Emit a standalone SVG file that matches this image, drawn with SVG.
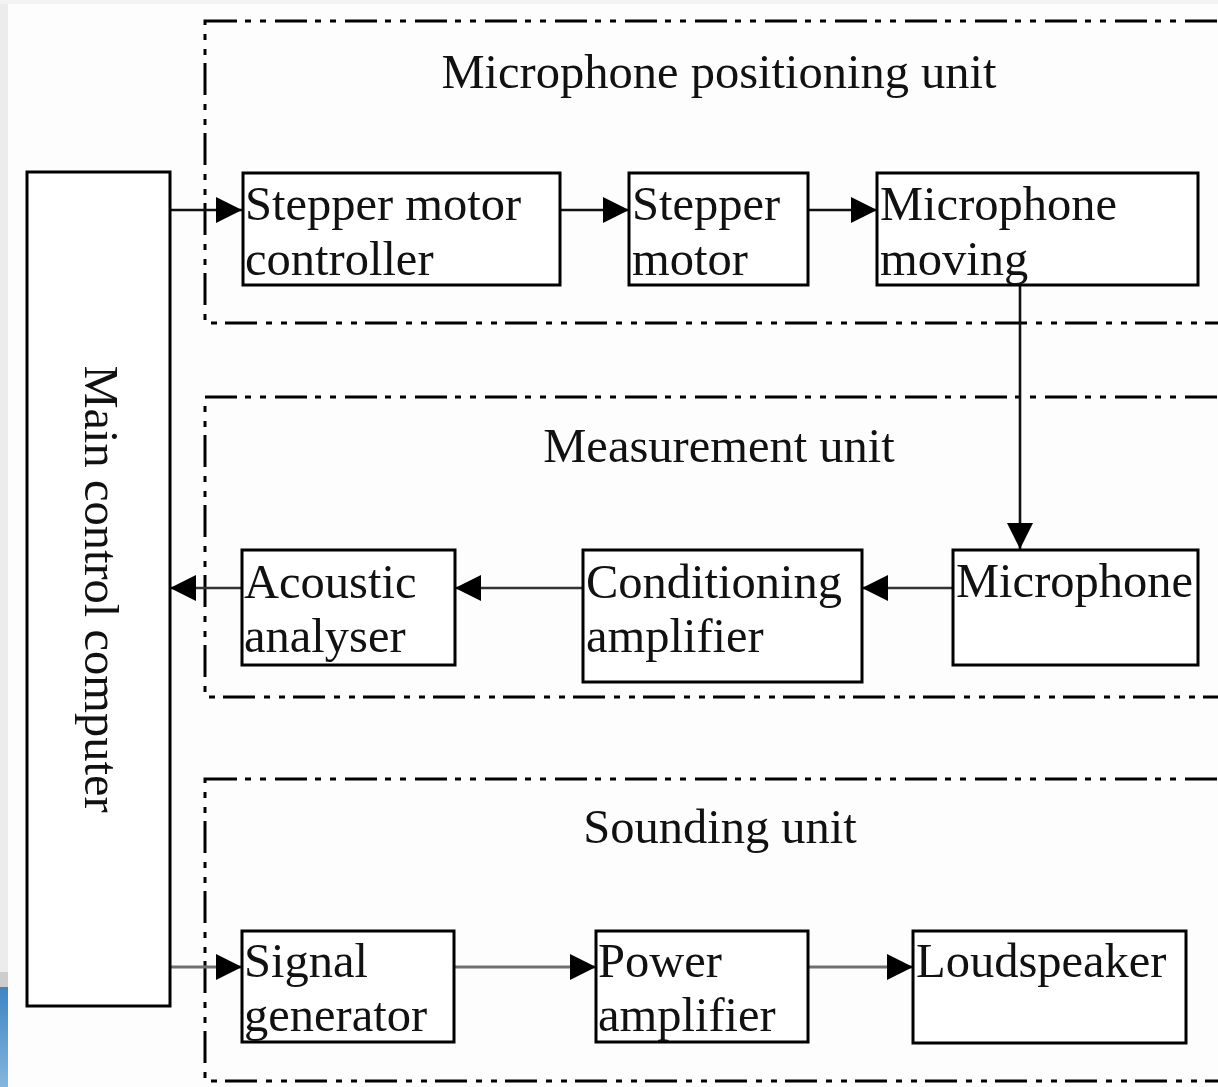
<svg xmlns="http://www.w3.org/2000/svg" width="1218" height="1087" viewBox="0 0 1218 1087">
  <defs>
    <style>
      .bg { fill: #fdfdfd; }
      .unit { fill: none; stroke: #000; stroke-width: 3; stroke-dasharray: 32 8 6 9 6 9; }
      .box { fill: #fff; stroke: #000; stroke-width: 3; }
      .lbl { font-family: "Liberation Serif", "Times New Roman", serif; font-size: 48.5px; fill: #111; }
      .title { text-anchor: middle; }
      .wire { fill: none; stroke-width: 2.6; }
      .w1 { stroke: #111; }
      .w2 { stroke: #333; }
      .w3 { stroke: #707070; stroke-width: 3; }
    </style>
    <marker id="head" viewBox="0 0 26 26" markerWidth="26" markerHeight="26" refX="26" refY="13" orient="auto" markerUnits="userSpaceOnUse">
      <path d="M0,0 L26,13 L0,26 z" fill="#000"/>
    </marker>
    <linearGradient id="edgeBlue" x1="0" y1="0" x2="0" y2="1">
      <stop offset="0" stop-color="#3e84c4"/>
      <stop offset="1" stop-color="#86b6dc"/>
    </linearGradient>
  </defs>

  <!-- page background and the left margin strip -->
  <rect class="bg" x="0" y="0" width="1218" height="1087"/>
  <rect x="0" y="0" width="8" height="972" fill="#ececec"/>
  <rect x="0" y="0" width="1218" height="4" fill="#f3f3f3"/>
  <rect x="0" y="972" width="8" height="15" fill="#cdcdcd"/>
  <rect x="0" y="987" width="8" height="100" fill="url(#edgeBlue)"/>

  <!-- unit frames -->
  <g id="positioning-unit">
    <rect class="unit" x="205" y="21" width="1030" height="302"/>
    <text class="lbl title" x="719" y="88">Microphone positioning unit</text>
  </g>
  <g id="measurement-unit">
    <rect class="unit" x="205" y="397" width="1030" height="300"/>
    <text class="lbl title" x="719" y="462">Measurement unit</text>
  </g>
  <g id="sounding-unit">
    <rect class="unit" x="205" y="779" width="1030" height="302"/>
    <text class="lbl title" x="720" y="843">Sounding unit</text>
  </g>

  <!-- connectors -->
  <g id="connectors">
    <line class="wire w1" x1="170" y1="210" x2="242" y2="210" marker-end="url(#head)"/>
    <line class="wire w1" x1="560" y1="210" x2="629" y2="210" marker-end="url(#head)"/>
    <line class="wire w1" x1="808" y1="210" x2="877" y2="210" marker-end="url(#head)"/>
    <line class="wire w1" x1="1020" y1="285" x2="1020" y2="549" marker-end="url(#head)"/>
    <line class="wire w2" x1="953" y1="588" x2="862" y2="588" marker-end="url(#head)"/>
    <line class="wire w2" x1="583" y1="588" x2="455" y2="588" marker-end="url(#head)"/>
    <line class="wire w2" x1="242" y1="588" x2="170" y2="588" marker-end="url(#head)"/>
    <line class="wire w3" x1="170" y1="967" x2="242" y2="967" marker-end="url(#head)"/>
    <line class="wire w3" x1="454" y1="967" x2="596" y2="967" marker-end="url(#head)"/>
    <line class="wire w3" x1="808" y1="967" x2="913" y2="967" marker-end="url(#head)"/>
  </g>

  <!-- blocks -->
  <g id="main-control-computer">
    <rect class="box" x="27" y="172" width="143" height="834"/>
    <text class="lbl" text-anchor="middle" transform="translate(85,589) rotate(90)">Main control computer</text>
  </g>
  <g id="stepper-motor-controller">
    <rect class="box" x="243" y="173" width="317" height="112"/>
    <text class="lbl" x="245" y="220">Stepper motor</text>
    <text class="lbl" x="245" y="275">controller</text>
  </g>
  <g id="stepper-motor">
    <rect class="box" x="629" y="173" width="179" height="112"/>
    <text class="lbl" x="632" y="220">Stepper</text>
    <text class="lbl" x="632" y="275">motor</text>
  </g>
  <g id="microphone-moving">
    <rect class="box" x="877" y="173" width="321" height="112"/>
    <text class="lbl" x="880" y="220">Microphone</text>
    <text class="lbl" x="880" y="275">moving</text>
  </g>
  <g id="acoustic-analyser">
    <rect class="box" x="242" y="550" width="213" height="115"/>
    <text class="lbl" x="244" y="598">Acoustic</text>
    <text class="lbl" x="244" y="652">analyser</text>
  </g>
  <g id="conditioning-amplifier">
    <rect class="box" x="583" y="550" width="279" height="132"/>
    <text class="lbl" x="586" y="598">Conditioning</text>
    <text class="lbl" x="586" y="652">amplifier</text>
  </g>
  <g id="microphone">
    <rect class="box" x="953" y="550" width="245" height="115"/>
    <text class="lbl" x="956" y="597">Microphone</text>
  </g>
  <g id="signal-generator">
    <rect class="box" x="242" y="931" width="212" height="111"/>
    <text class="lbl" x="244" y="977">Signal</text>
    <text class="lbl" x="244" y="1031">generator</text>
  </g>
  <g id="power-amplifier">
    <rect class="box" x="596" y="931" width="212" height="111"/>
    <text class="lbl" x="598" y="977">Power</text>
    <text class="lbl" x="598" y="1031">amplifier</text>
  </g>
  <g id="loudspeaker">
    <rect class="box" x="913" y="931" width="273" height="112"/>
    <text class="lbl" x="916" y="977">Loudspeaker</text>
  </g>
</svg>
